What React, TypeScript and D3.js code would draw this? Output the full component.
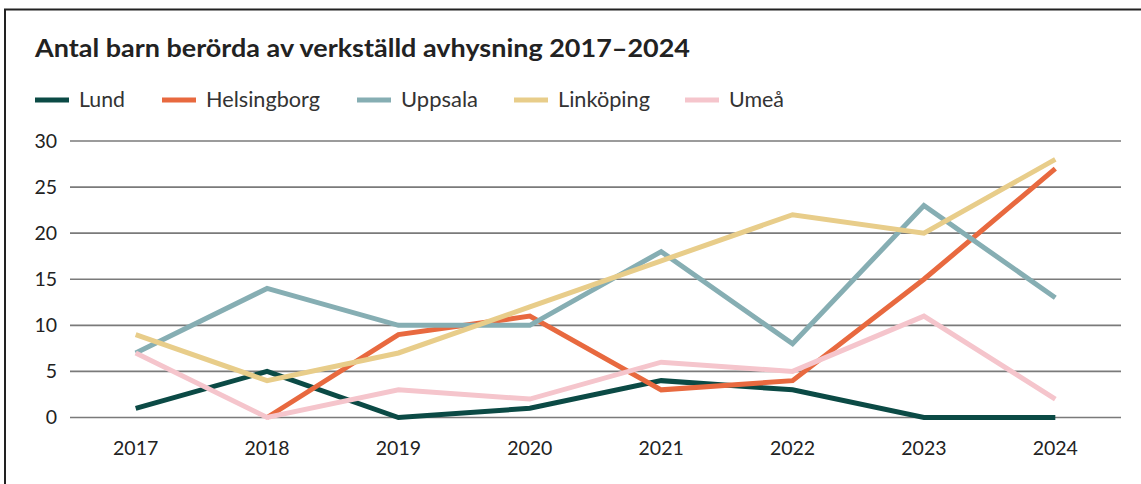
import React from "react";
import * as d3 from "d3";

const years = ["2017", "2018", "2019", "2020", "2021", "2022", "2023", "2024"];
const seriesNames = ["Lund", "Helsingborg", "Uppsala", "Linköping", "Umeå"];
const colors = ["#0b4a45", "#e8693f", "#86aeb3", "#e8cd8a", "#f5c5cc"];
const lund = [1, 5, 0, 1, 4, 3, 0, 0];
const helsingborg: (number | null)[] = [null, 0, 9, 11, 3, 4, 15, 27];
const uppsala = [7, 14, 10, 10, 18, 8, 23, 13];
const linkoping = [9, 4, 7, 12, 17, 22, 20, 28];
const umea = [7, 0, 3, 2, 6, 5, 11, 2];
const yTicks = [0, 5, 10, 15, 20, 25, 30];
const title = "Antal barn berörda av verkställd avhysning 2017–2024";

const W = 1141;
const H = 484;
const FONT = "Lato, 'Open Sans', sans-serif";

export default function App() {
  const values = [lund, helsingborg, uppsala, linkoping, umea];
  const x = d3.scalePoint<string>().domain(years).range([70, 1121]).padding(0.5);
  const y = d3.scaleLinear().domain([0, 30]).range([417.5, 141]);
  const line = d3
    .line<number | null>()
    .defined((d) => d !== null)
    .x((_, i) => x(years[i]) as number)
    .y((d) => y(d as number));

  const legendX = [35, 162, 357, 514, 685];
  const legendTextW = [46, 114, 77, 92, 55];

  return (
    <svg
      width={W}
      height={H}
      style={{ position: "absolute", left: 0, top: 0, background: "#fff" }}
    >
      <rect x={0} y={0} width={W} height={H} fill="#fff" />
      <rect x={5} y={9.5} width={W + 20} height={H + 20} fill="none" stroke="#222" strokeWidth={2} />
      <text
        x={35}
        y={57}
        fontFamily={FONT}
        fontWeight={700}
        fontSize={25}
        fill="#222"
        textLength={655}
        lengthAdjust="spacingAndGlyphs"
      >
        {title}
      </text>
      {seriesNames.map((n, i) => (
        <g key={n}>
          <line
            x1={legendX[i]}
            x2={legendX[i] + 34}
            y1={100}
            y2={100}
            stroke={colors[i]}
            strokeWidth={5}
          />
          <text
            x={legendX[i] + 44}
            y={107}
            fontFamily={FONT}
            fontSize={20.5}
            fill="#333"
            textLength={legendTextW[i]}
            lengthAdjust="spacingAndGlyphs"
          >
            {n}
          </text>
        </g>
      ))}
      {yTicks.map((t) => (
        <g key={t}>
          <line x1={70} x2={1121} y1={y(t)} y2={y(t)} stroke="#7a7a7a" strokeWidth={1.6} />
          <text
            x={57}
            y={y(t) + 6.5}
            textAnchor="end"
            fontFamily={FONT}
            fontSize={19.5}
            fill="#222"
          >
            {t}
          </text>
        </g>
      ))}
      {years.map((yr) => (
        <text
          key={yr}
          x={x(yr)}
          y={455}
          textAnchor="middle"
          fontFamily={FONT}
          fontSize={19.5}
          fill="#222"
        >
          {yr}
        </text>
      ))}
      {values.map((v, i) => (
        <path
          key={seriesNames[i]}
          d={line(v) || ""}
          fill="none"
          stroke={colors[i]}
          strokeWidth={5}
          strokeLinejoin="miter"
        />
      ))}
    </svg>
  );
}
